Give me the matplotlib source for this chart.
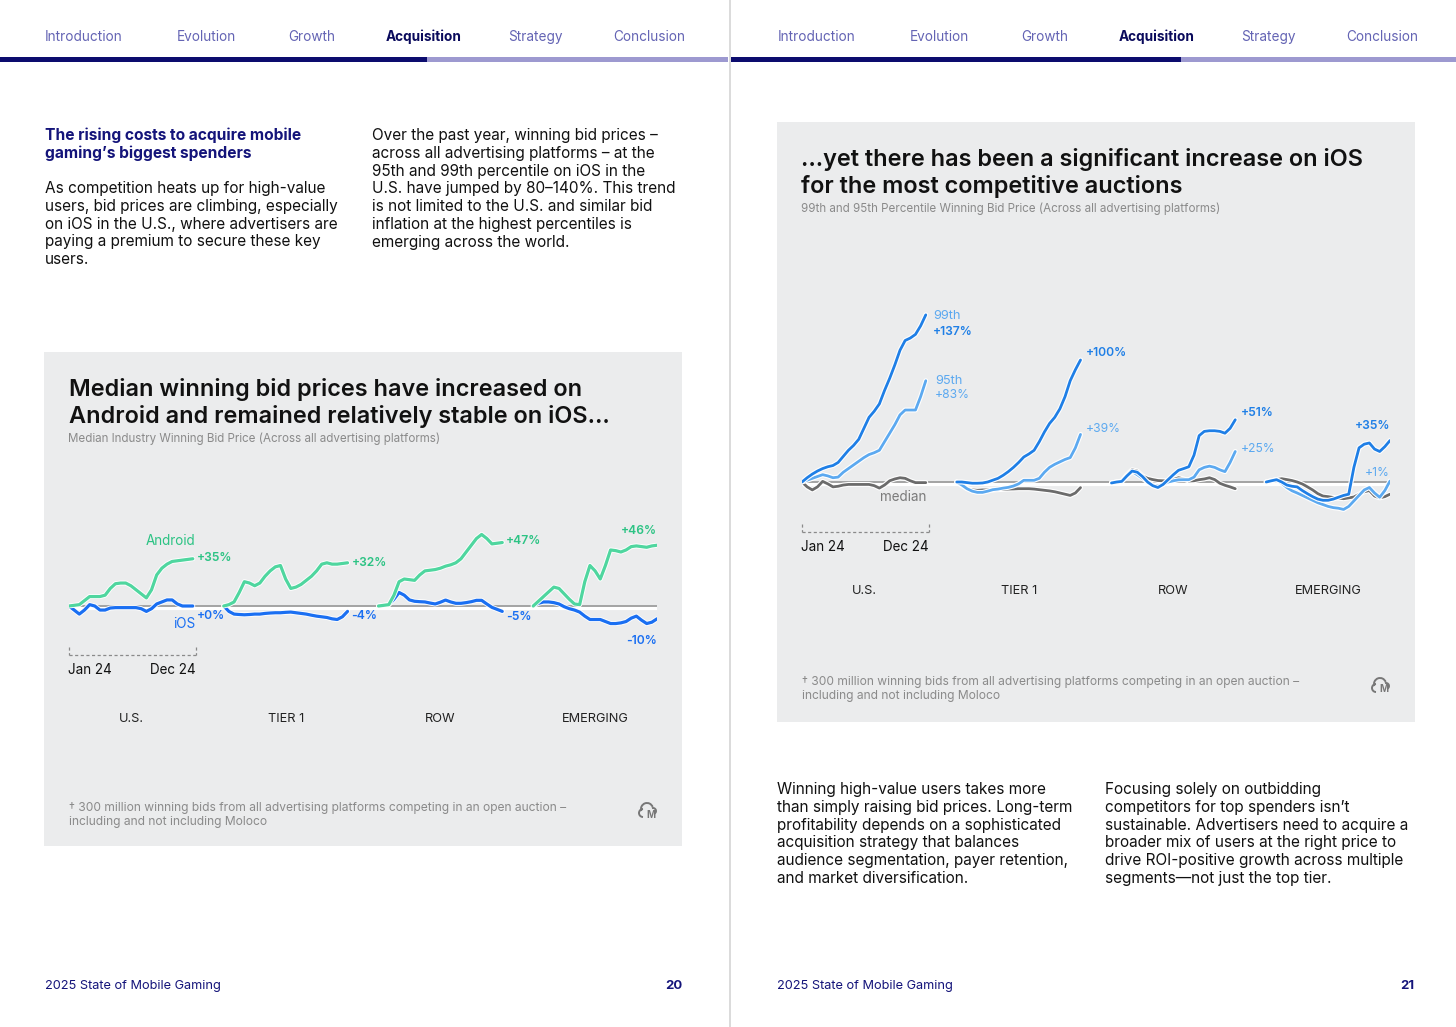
import matplotlib
matplotlib.use('Agg')
import matplotlib.pyplot as plt
import matplotlib.patheffects as pe
from matplotlib.patches import Rectangle, Arc
from matplotlib.lines import Line2D
import numpy as np

plt.rcParams['font.family'] = ['Inter', 'DejaVu Sans']

# ---- data (percent change vs Jan 24, sampled every half month) ----
segments = ['U.S.', 'TIER 1', 'ROW', 'EMERGING']
months = np.arange(0, 12.5, 0.5)

android_us = [0, 0.5, 1, 4, 7, 7, 7, 8, 13, 16.5, 17, 17, 15, 12, 9, 6, 12, 23, 28, 31, 33, 33.5, 34, 34.5, 35]
android_t1 = [0, 1, 3, 10, 18, 17, 15, 17, 22, 26, 29, 30, 20, 13, 14, 16, 19, 22, 26, 31, 32, 31, 31, 31.5, 32]
android_row = [0, 0.5, 1, 8, 18, 20, 19.5, 19, 23, 26, 26.5, 27, 28, 29.5, 30.5, 32, 35, 40, 45, 50, 53, 50, 46, 46.5, 47]
android_em = [0, 3.5, 7, 10.5, 14, 13, 9, 5, 1.5, 1, 18, 30, 26, 20, 30, 41.5, 41, 40, 41.5, 44, 44.5, 44, 43.5, 44.5, 45]

ios_us = [0, -3, -6, -3, 1, 0, -3, -3, -1.5, -1.2, -1.2, -1.2, -1.2, -1.2, -2, -4, -2, 1.5, 3, 4.5, 4.5, 1.5, 0, 0, 0]
ios_t1 = [0, -4, -6, -6.3, -6.5, -6.3, -6, -6, -5.5, -5.2, -5, -5, -4.7, -4.5, -5, -5.5, -6, -6.8, -7.5, -8, -8.5, -9.5, -10, -8, -4]
ios_row = [0, 0.5, 1, 5, 10, 8, 4.5, 3.5, 3.2, 3, 2.2, 1.5, 2.8, 4.4, 3, 2, 2, 2.5, 3.2, 4.2, 4.2, 1.5, -1, -2.5, -4]
ios_em = [0, 2, 3, 3, 2.5, 1.5, -0.5, -2, -3, -4.5, -7.5, -10, -10, -10, -11.5, -13, -13, -12.5, -11.5, -9, -7.5, -10.5, -13, -12, -9.5]

android_change = ['+35%', '+32%', '+47%', '+46%']
ios_change = ['+0%', '-4%', '-5%', '-10%']

p99_us = [0, 3.5, 6.5, 9, 11, 12.5, 13.5, 16, 21, 26, 30, 35, 44, 53, 58, 64, 75, 85, 96, 108, 116, 118, 121, 128, 137]
p99_t1 = [0, 0, -0.5, -1, -1, -0.8, 0, 1.5, 3, 5.5, 8.5, 12, 16, 20.5, 23, 26, 33, 41, 48, 53, 60, 70, 83, 92, 100]
p99_row = [-0.8, 0, 0.5, 5, 9, 8, 4.5, 0, -3, -4.5, -2, 2, 6, 9.6, 11, 12.5, 22, 38, 41.5, 42, 42, 41.5, 40, 44, 51]
p99_em = [0, 1, 1.9, 0, -2.5, -3.5, -4, -7, -9.6, -12, -14, -15, -15, -14, -12.5, -11, -10, 12, 28, 31, 32, 27, 25, 29, 34]

p95_us = [0, 1.5, 3, 4.5, 6, 5, 3.5, 4, 8, 11, 14, 17, 20, 22.5, 24, 26, 33, 40, 47, 55, 59, 59, 59, 70, 83]
p95_t1 = [0, -2.5, -5.5, -7.5, -8.5, -8.5, -7.5, -6.3, -5.8, -5, -4.4, -3.3, -1.5, 1.4, 1.4, 1.4, 3, 8, 12, 14.5, 16.5, 18.5, 20, 28, 39]
p95_row = [-0.8, 0, 0.5, 5, 8.5, 6, 3, 0, -2.5, -3.3, -2, 0, 1, 1.8, 1.9, 1.9, 4, 10, 12, 13, 12, 10, 8.5, 16, 25]
p95_em = [0, 1, 1.9, -1, -4.5, -7.2, -9, -11, -13, -15, -17, -18.5, -20, -21, -21.5, -22.5, -20, -15.5, -11, -6.5, -4.5, -9, -12.5, -7, 0.8]

med_us = [0, -4, -6.5, -4, 0.5, -1.5, -4, -3.5, -2.5, -2, -2, -2, -2, -2, -3, -5, -2.5, 1, 2.5, 3.5, 3, 1, -0.5, -0.5, -0.5]
med_t1 = [0, -3, -5.5, -6.5, -6.8, -6.5, -6.5, -6.5, -6.3, -6, -5.8, -5.7, -5.5, -5.5, -5.5, -5.8, -6.3, -6.8, -7.3, -8, -9, -10, -11, -9, -4.6]
med_row = [-0.8, 0, 0.8, 6, 10, 9, 5, 3, 2, 1.2, 1, 0.8, 2, 3.5, 2.5, 0.8, 1, 1.9, 2.5, 3.5, 2, -1, -2.7, -4, -5.5]
med_em = [0, 1, 2, 2.7, 2, 1.2, 0, -1.6, -4, -6.5, -9.5, -11.5, -12, -12.7, -13.2, -13.7, -13, -12.3, -10, -8, -7, -11.5, -13, -12, -10]

p99_change = ['+137%', '+100%', '+51%', '+35%']
p95_change = ['+83%', '+39%', '+25%', '+1%']

# ---- colours ----
NAVY = '#14147a'
NAV_LIGHT = '#6464b4'
BAR_DARK = '#0c0c6e'
BAR_LIGHT = '#9d99d0'
PANEL = '#ebeced'
GREEN = '#4fd69f'
GREEN_TXT = '#2cc384'
BLUE_IOS = '#1a6ff2'
BLUE_99 = '#1f7fe6'
BLUE_95 = '#5ca9f0'
GREY_MED = '#6b6b6b'
BASE = '#a3a3a3'

W, H = 1456, 1027
fig = plt.figure(figsize=(W / 100, H / 100), dpi=100)
fig.patch.set_facecolor('white')


def fx(x):
    return x / W


def fy(y):
    return 1 - y / H


def rect(x0, y0, x1, y1, color):
    fig.patches.append(Rectangle((fx(x0), fy(y1)), (x1 - x0) / W, (y1 - y0) / H,
                                 transform=fig.transFigure, color=color, zorder=-1, lw=0))


def line(xs, ys, **kw):
    fig.lines.append(Line2D([fx(x) for x in xs], [fy(y) for y in ys], transform=fig.transFigure, **kw))


def txt(x, y, s, fontsize=10, **kw):
    # y is the visual middle of lowercase text; put baseline a bit lower
    fig.text(fx(x), fy(y + 0.36 * fontsize * 100 / 72), s, fontsize=fontsize, va='baseline', **kw)


def lines_of(x, y0, dy, lines, **kw):
    for i, l in enumerate(lines):
        txt(x, y0 + i * dy, l, **kw)


# ---- page chrome ----
nav = ['Introduction', 'Evolution', 'Growth', 'Acquisition', 'Strategy', 'Conclusion']
nav_x_left = [45, 177, 288, 386, 508, 613]
for page_off in [0, 733]:
    for name, x in zip(nav, nav_x_left):
        if name == 'Acquisition':
            txt(x + page_off, 36.5, name, fontsize=9.8, color='#0a0a5c', fontweight='bold')
        else:
            txt(x + page_off, 36.5, name, fontsize=9.8, color=NAV_LIGHT)

rect(0, 57, 427, 62, BAR_DARK)
rect(427, 57, 728, 62, BAR_LIGHT)
rect(731, 57, 1181, 62, BAR_DARK)
rect(1181, 57, 1456, 62, BAR_LIGHT)
line([729.5, 729.5], [0, H], color='#d4d4d4', lw=1.2)

BODY = 11.05
lines_of(45, 134.5, 18, ['The rising costs to acquire mobile', 'gaming\u2019s biggest spenders'],
         fontsize=11.2, color=NAVY, fontweight='bold')
lines_of(45, 187.5, 17.8, ['As competition heats up for high-value',
                           'users, bid prices are climbing, especially',
                           'on iOS in the U.S., where advertisers are',
                           'paying a premium to secure these key',
                           'users.'], fontsize=BODY, color='#111111')
lines_of(372, 134.5, 17.8, ['Over the past year, winning bid prices \u2013',
                            'across all advertising platforms \u2013 at the',
                            '95th and 99th percentile on iOS in the',
                            'U.S. have jumped by 80\u2013140%. This trend',
                            'is not limited to the U.S. and similar bid',
                            'inflation at the highest percentiles is',
                            'emerging across the world.'], fontsize=BODY, color='#111111')

lines_of(777, 788.5, 17.8, ['Winning high-value users takes more',
                            'than simply raising bid prices. Long-term',
                            'profitability depends on a sophisticated',
                            'acquisition strategy that balances',
                            'audience segmentation, payer retention,',
                            'and market diversification.'], fontsize=BODY, color='#111111')
lines_of(1105, 788.5, 17.8, ['Focusing solely on outbidding',
                             'competitors for top spenders isn\u2019t',
                             'sustainable. Advertisers need to acquire a',
                             'broader mix of users at the right price to',
                             'drive ROI-positive growth across multiple',
                             'segments\u2014not just the top tier.'], fontsize=BODY, color='#111111')

txt(45, 984, '2025 State of Mobile Gaming', fontsize=9.2, color=NAVY)
txt(682, 984, '20', fontsize=9.5, color=NAVY, fontweight='bold', ha='right')
txt(777, 984, '2025 State of Mobile Gaming', fontsize=9.2, color=NAVY)
txt(1414, 984, '21', fontsize=9.5, color=NAVY, fontweight='bold', ha='right')

# ---- panels ----
rect(44, 352, 682, 846, PANEL)
rect(777, 122, 1415, 722, PANEL)

lines_of(69, 388, 27, ['Median winning bid prices have increased on',
                       'Android and remained relatively stable on iOS\u2026'],
         fontsize=16.9, fontweight='semibold', color='#111111')
txt(68, 438, 'Median Industry Winning Bid Price (Across all advertising platforms)',
    fontsize=8.35, color='#8a8a8a')

lines_of(801, 158, 27, ['\u2026yet there has been a significant increase on iOS',
                        'for the most competitive auctions'],
         fontsize=16.9, fontweight='semibold', color='#111111')
txt(801, 208, '99th and 95th Percentile Winning Bid Price (Across all advertising platforms)',
    fontsize=8.35, color='#8a8a8a')

foot = ['\u2020 300 million winning bids from all advertising platforms competing in an open auction \u2013',
        'including and not including Moloco']
lines_of(69, 807, 13.5, foot, fontsize=8.65, color='#8a8a8a')
lines_of(802, 681, 13.5, foot, fontsize=8.65, color='#8a8a8a')


def logo(cx, cy):
    a = fig.add_axes([fx(cx - 12), fy(cy + 12), 24 / W, 24 / H])
    a.set_xlim(-12, 12)
    a.set_ylim(-12, 12)
    a.axis('off')
    a.add_patch(Arc((-1, 2), 12, 12, theta1=20, theta2=200, color='#777777', lw=1.4))
    a.add_patch(Arc((-5, -2), 8, 8, theta1=90, theta2=270, color='#777777', lw=1.4))
    a.add_patch(Arc((5, 0), 6, 6, theta1=-60, theta2=110, color='#777777', lw=1.4))
    a.text(2.5, -3.5, 'M', fontsize=7, fontweight='bold', color='#777777', ha='center', va='center')


logo(648, 811)
logo(1381, 686)

halo = [pe.Stroke(linewidth=3.6, foreground='white'), pe.Normal()]
base_fx = [pe.Stroke(linewidth=3, foreground='white', offset=(0, -1.2)), pe.Normal()]
STEP = 15


def chart_axes(x0, x1, y0, y1, base_px, ppp):
    ax = fig.add_axes([fx(x0), fy(y1), (x1 - x0) / W, (y1 - y0) / H])
    ax.set_xlim(0, 3 * STEP + 12)
    ax.set_ylim(-(y1 - base_px) / ppp, (base_px - y0) / ppp)
    ax.axis('off')
    ax.axhline(0, color=BASE, lw=1.4, path_effects=base_fx, zorder=1)
    return ax


# ---- left chart ----
L_BASE, L_PPP = 606, 1.35
axl = chart_axes(69, 657, 470, 730, L_BASE, L_PPP)
android = [android_us, android_t1, android_row, android_em]
ios = [ios_us, ios_t1, ios_row, ios_em]
a_off = [(4, 1, 'left'), (4, 0, 'left'), (4, 2, 'left'), (0, 14, 'right')]
i_off = [(4, -10, 'left'), (4, -5, 'left'), (4, -6, 'left'), (0, -22, 'right')]
for s in range(4):
    xs = s * STEP + months
    axl.plot(xs, ios[s], color=BLUE_IOS, lw=2.3, path_effects=halo, zorder=3, solid_capstyle='round')
    axl.plot(xs, android[s], color=GREEN, lw=2.3, path_effects=halo, zorder=4, solid_capstyle='round')
    dx, dy, ha = a_off[s]
    axl.annotate(android_change[s], (xs[-1], android[s][-1]), xytext=(dx, dy), textcoords='offset pixels',
                 ha=ha, va='center', fontsize=8.7, fontweight='semibold', color=GREEN_TXT)
    dx, dy, ha = i_off[s]
    axl.annotate(ios_change[s], (xs[-1], ios[s][-1]), xytext=(dx, dy), textcoords='offset pixels',
                 ha=ha, va='center', fontsize=8.7, fontweight='semibold', color=BLUE_IOS)
    axl.text(s * STEP + 6, -(718.5 - L_BASE) / L_PPP, segments[s], ha='center', va='center',
             fontsize=9.2, color='#222222')
axl.text(9.8, (L_BASE - 541) / L_PPP, 'Android', ha='center', va='center', fontsize=9.7, color=GREEN_TXT)
axl.text(11.2, (L_BASE - 624) / L_PPP, 'iOS', ha='center', va='center', fontsize=9.7, color=BLUE_IOS)

# ---- right chart ----
R_BASE, R_PPP = 482, 1.22
axr = chart_axes(802, 1390, 280, 600, R_BASE, R_PPP)
p99 = [p99_us, p99_t1, p99_row, p99_em]
p95 = [p95_us, p95_t1, p95_row, p95_em]
med = [med_us, med_t1, med_row, med_em]
o99 = [(7, -17, 'left'), (5, 7, 'left'), (6, 7, 'left'), (0, 15, 'right')]
o95 = [(9, -14, 'left'), (5, 5, 'left'), (6, 3, 'left'), (0, 8, 'right')]
for s in range(4):
    xs = s * STEP + months
    axr.plot(xs, med[s], color=GREY_MED, lw=2.0, path_effects=halo, zorder=2, solid_capstyle='round')
    axr.plot(xs, p95[s], color=BLUE_95, lw=2.0, path_effects=halo, zorder=3, solid_capstyle='round')
    axr.plot(xs, p99[s], color=BLUE_99, lw=2.0, path_effects=halo, zorder=4, solid_capstyle='round')
    dx, dy, ha = o99[s]
    axr.annotate(p99_change[s], (xs[-1], p99[s][-1]), xytext=(dx, dy), textcoords='offset pixels',
                 ha=ha, va='center', fontsize=8.7, fontweight='semibold', color=BLUE_99)
    dx, dy, ha = o95[s]
    axr.annotate(p95_change[s], (xs[-1], p95[s][-1]), xytext=(dx, dy), textcoords='offset pixels',
                 ha=ha, va='center', fontsize=8.7, color=BLUE_95)
    axr.text(s * STEP + 6, -(591.5 - R_BASE) / R_PPP, segments[s], ha='center', va='center',
             fontsize=9.2, color='#222222')
axr.annotate('99th', (12, p99_us[-1]), xytext=(7, -1), textcoords='offset pixels',
             ha='left', va='center', fontsize=9.2, color=BLUE_95)
axr.annotate('95th', (12, p95_us[-1]), xytext=(9, 0), textcoords='offset pixels',
             ha='left', va='center', fontsize=9.2, color=BLUE_95)
axr.text(9.8, -(497 - R_BASE) / R_PPP, 'median', ha='center', va='center', fontsize=9.7, color='#7a7a7a')

# ---- Jan/Dec brackets ----
for x0, yb in [(69, 655), (802, 532)]:
    dash = dict(color='#8a8a8a', lw=0.9, ls=(0, (2.5, 2)))
    line([x0, x0 + 127], [yb, yb], **dash)
    line([x0, x0], [yb - 8, yb], **dash)
    line([x0 + 127, x0 + 127], [yb - 8, yb], **dash)
    txt(x0 - 1, yb + 14, 'Jan 24', fontsize=9.7, color='#111111')
    txt(x0 + 127, yb + 14, 'Dec 24', fontsize=9.7, color='#111111', ha='right')

fig.savefig('out.png', dpi=100)
